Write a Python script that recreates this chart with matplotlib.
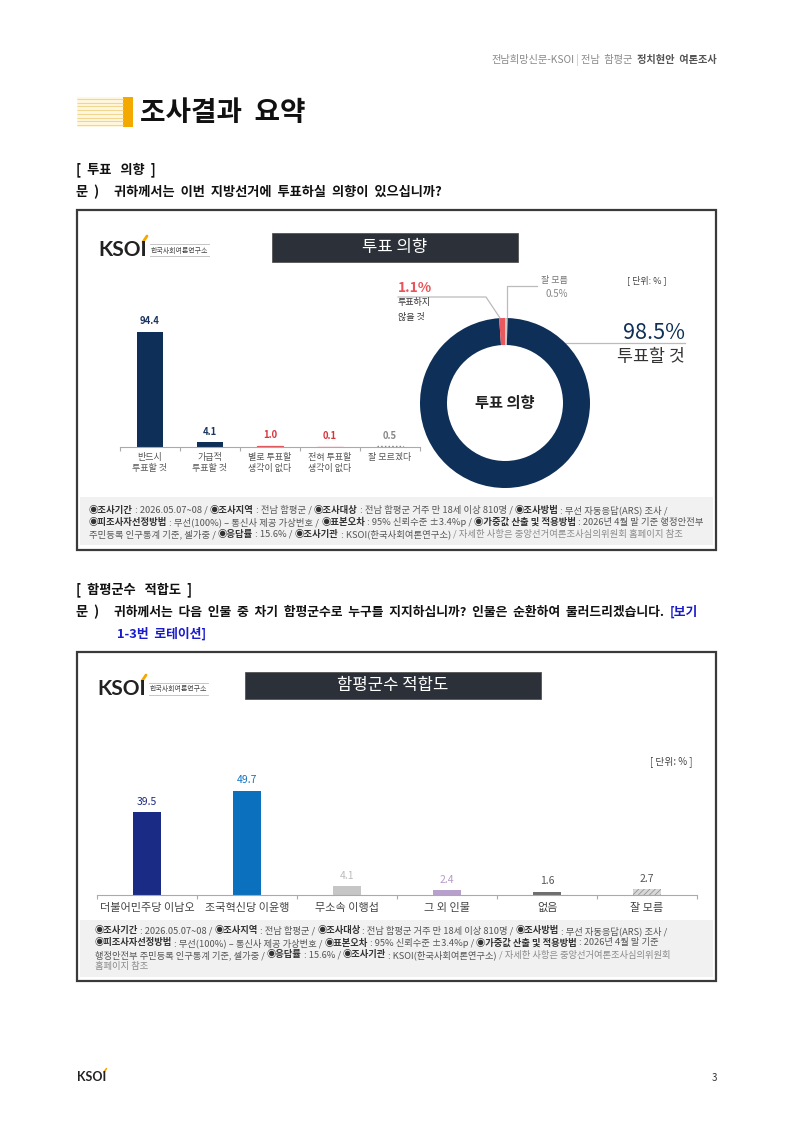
import numpy as np
import matplotlib
matplotlib.use('Agg')
import matplotlib.pyplot as plt
from matplotlib.patches import Rectangle
from matplotlib.font_manager import FontProperties

FONTS = ['Noto Sans CJK KR', 'DejaVu Sans']
plt.rcParams['font.family'] = FONTS
plt.rcParams['hatch.linewidth'] = 0.5

# data
vote_cats = ['반드시\n투표할 것', '가급적\n투표할 것', '별로 투표할\n생각이 없다', '전혀 투표할\n생각이 없다', '잘 모르겠다']
vote_vals = [94.4, 4.1, 1.0, 0.1, 0.5]
donut_names = ['잘 모름', '투표할 것', '투표하지\n않을 것']
donut_vals = [0.5, 98.5, 1.1]
fit_cats = ['더불어민주당 이남오', '조국혁신당 이윤행', '무소속 이행섭', '그 외 인물', '없음', '잘 모름']
fit_vals = [39.5, 49.7, 4.1, 2.4, 1.6, 2.7]

NAVY = '#0e2f57'
RED = '#e4555a'

W, H = 793, 1121
fig = plt.figure(figsize=(W / 100, H / 100), dpi=100)
page = fig.add_axes([0, 0, 1, 1])
page.set_xlim(0, W)
page.set_ylim(H, 0)
page.axis('off')
renderer = fig.canvas.get_renderer()


def px_box(x0, y0, x1, y1):
    return [x0 / W, 1 - y1 / H, (x1 - x0) / W, (y1 - y0) / H]


def adv(s, size, bold=False):
    fp = FontProperties(family=FONTS, size=size, weight='bold' if bold else 'normal')
    a = renderer.get_text_width_height_descent('|' + s + '|', fp, ismath=False)[0]
    b = renderer.get_text_width_height_descent('||', fp, ismath=False)[0]
    return a - b


def fit(parts, size, width):
    return size * width / sum(adv(s, size, b) for s, b, c in parts)


def rich(x, y, parts, size, ha='left', width=None):
    if width is not None:
        size = fit(parts, size, width)
    total = sum(adv(s, size, b) for s, b, c in parts)
    if ha == 'right':
        x -= total
    for s, b, c in parts:
        page.text(x, y, s, fontsize=size, fontweight='bold' if b else 'normal',
                  color=c, va='center', ha='left')
        x += adv(s, size, b)
    return size


def logo(x, y, size, small=True):
    page.text(x, y, 'KSOI', family='Lato', fontweight='bold', fontsize=size,
              color='#222', va='center', ha='left')
    k = size / 15
    page.plot([x + 45 * k, x + 49 * k], [y - 8 * k, y - 14 * k], color='#f5a800', lw=2 * k,
              solid_capstyle='round')
    if small:
        page.plot([x + 52, x + 111], [y - 6, y - 6], color='#bbb', lw=0.6)
        page.plot([x + 52, x + 111], [y + 6, y + 6], color='#bbb', lw=0.6)
        page.text(x + 53, y + 0.5, '한국사회여론연구소', fontsize=5, color='#444', va='center')


# header
rich(717, 60, [('전남희망신문-KSOI', False, '#888'), (' | ', False, '#bbb'),
               ('전남  함평군  ', False, '#888'), ('정치현안  여론조사', True, '#555')],
     7, ha='right', width=228)

# title block
page.add_patch(Rectangle((77, 97), 46, 30, facecolor='#fff7e0', edgecolor='none'))
page.hlines(np.linspace(99, 125, 8), 77, 123, color='#f1d68f', lw=0.8)
page.add_patch(Rectangle((123, 97), 10, 30, facecolor='#f4a900', edgecolor='none'))
page.text(140, 113, '조사결과  요약', fontsize=20, fontweight='bold', color='#111', va='center')

# section 1
Q = '#111'
qs = rich(114, 192, [('귀하께서는  이번  지방선거에  투표하실  의향이  있으십니까?', True, Q)], 9, width=330)
page.text(76, 170, '[  투표   의향  ]', fontsize=qs, fontweight='bold', color=Q, va='center')
page.text(76, 192, '문  )', fontsize=qs, fontweight='bold', color=Q, va='center')

# section 2
page.text(76, 590, '[  함평군수   적합도  ]', fontsize=qs, fontweight='bold', color=Q, va='center')
page.text(76, 612, '문  )', fontsize=qs, fontweight='bold', color=Q, va='center')
q2 = [('귀하께서는  다음  인물  중  차기  함평군수로  누구를  지지하십니까?  인물은  순환하여  불러드리겠습니다.  ',
       True, Q), ('[보기', True, '#1a1acd')]
q2s = rich(114, 612, q2, 9, width=588)
page.text(117, 634, '1-3번  로테이션]', fontsize=q2s, fontweight='bold', color='#1a1acd', va='center')

# chart frames
for y0, y1, fy0, fy1 in [(210, 550, 497, 545), (652, 981, 920, 977)]:
    page.add_patch(Rectangle((77, y0), 639, y1 - y0, fill=False, edgecolor='#3a3a3a', lw=1.6))
    page.add_patch(Rectangle((80, fy0), 633, fy1 - fy0, facecolor='#f1f1f1', edgecolor='none'))
page.add_patch(Rectangle((272, 233), 246, 29, facecolor='#2c3038', edgecolor='#555', lw=0.6))
page.text(395, 247.5, '투표 의향', fontsize=12, color='white', ha='center', va='center')
page.add_patch(Rectangle((245, 672), 296, 27, facecolor='#2c3038', edgecolor='#555', lw=0.6))
page.text(393, 685.5, '함평군수 적합도', fontsize=12, color='white', ha='center', va='center')

logo(98, 250, 15)
logo(97, 689, 15)

# footers
B, N, L = '#333', '#555', '#8a8a8a'
foot1 = [
    [('◉조사기간', True, B), (' : 2026.05.07~08 / ', False, N), ('◉조사지역', True, B),
     (' : 전남 함평군 / ', False, N), ('◉조사대상', True, B),
     (' : 전남 함평군 거주 만 18세 이상 810명 / ', False, N), ('◉조사방법', True, B),
     (' : 무선 자동응답(ARS) 조사 /', False, N)],
    [('◉피조사자선정방법', True, B), (' : 무선(100%) – 통신사 제공 가상번호 / ', False, N),
     ('◉표본오차', True, B), (' : 95% 신뢰수준 ±3.4%p / ', False, N),
     ('◉가중값 산출 및 적용방법', True, B), (' : 2026년 4월 말 기준 행정안전부', False, N)],
    [('주민등록 인구통계 기준, 셀가중 / ', False, N), ('◉응답률', True, B), (' : 15.6% / ', False, N),
     ('◉조사기관', True, B), (' : KSOI(한국사회여론연구소) ', False, N),
     ('/ 자세한 사항은 중앙선거여론조사심의위원회 홈페이지 참조', False, L)],
]
fs = fit(foot1[1], 6, 611)
for line, yy in zip(foot1, [510, 522, 534]):
    rich(89, yy, line, fs)

foot2 = [
    foot1[0],
    foot1[1][:-1] + [(' : 2026년 4월 말 기준', False, N)],
    [('행정안전부 주민등록 인구통계 기준, 셀가중 / ', False, N), ('◉응답률', True, B),
     (' : 15.6% / ', False, N), ('◉조사기관', True, B), (' : KSOI(한국사회여론연구소) ', False, N),
     ('/ 자세한 사항은 중앙선거여론조사심의위원회', False, L)],
    [('홈페이지 참조', False, L)],
]
fs2 = fit(foot2[0], 6, 572)
for line, yy in zip(foot2, [931, 943, 955, 967]):
    rich(95, yy, line, fs2)

# chart 1: bars
ax1 = fig.add_axes(px_box(120, 317, 420, 447))
ax1.patch.set_visible(False)
x1 = np.arange(len(vote_vals))
bars = ax1.bar(x1, vote_vals, width=0.43, color=[NAVY, NAVY, RED, RED, 'none'])
for b in bars[2:4]:
    b.set_edgecolor(RED)
    b.set_linewidth(0.9)
bars[4].set_edgecolor('#888')
bars[4].set_linestyle(':')
bars[4].set_linewidth(1)
ax1.set_xlim(-0.5, 4.5)
ax1.set_ylim(0, 130 / 1.22)
for s in ['top', 'left', 'right']:
    ax1.spines[s].set_visible(False)
ax1.spines['bottom'].set_color('#aaa')
ax1.spines['bottom'].set_linewidth(0.8)
ax1.set_yticks([])
ax1.set_xticks(np.arange(-0.5, 5, 1))
ax1.set_xticklabels([])
ax1.tick_params(axis='x', which='major', length=3, color='#aaa', width=0.8)
ax1.set_xticks(x1, minor=True)
ax1.set_xticklabels(vote_cats, minor=True, fontsize=6.5, color='#555', linespacing=1.3)
ax1.tick_params(axis='x', which='minor', length=0, pad=4)
lc1 = ['#1b3560', '#1b3560', '#d9343c', '#d9343c', '#888']
for i, v in enumerate(vote_vals):
    ax1.annotate(f'{v:.1f}', (i, v), xytext=(0, 7.5), textcoords='offset points',
                 ha='center', va='center', fontsize=6.8, fontweight='bold', color=lc1[i])

# chart 1: donut
page.plot([398, 486, 500], [297, 297, 318], color='#bbb', lw=0.9)
page.plot([507, 507, 537], [318, 286, 286], color='#bbb', lw=0.9)
page.plot([540, 685], [343, 343], color='#bbb', lw=0.9)
axd = fig.add_axes(px_box(420, 318, 590, 488))
axd.pie(donut_vals, colors=['#c9c9c9', NAVY, '#e8585c'], startangle=90, counterclock=False,
        radius=1, wedgeprops=dict(width=27 / 85, linewidth=0))
axd.set_xlim(-1, 1)
axd.set_ylim(-1, 1)
axd.text(0, 0, '투표 의향', fontsize=11, fontweight='bold', color='#222', ha='center', va='center')

page.text(685, 333, f'{donut_vals[1]}%', fontsize=15.5, color=NAVY, ha='right', va='center')
page.text(685, 357, donut_names[1], fontsize=12.5, color='#333', ha='right', va='center')
page.text(398, 288, f'{donut_vals[2]}%', fontsize=10, fontweight='bold', color='#e8545a', va='center')
for j, part in enumerate(donut_names[2].split('\n')):
    page.text(398, 303 + 14 * j, part, fontsize=6.5, color='#333', va='center')
page.text(568, 280, donut_names[0], fontsize=6.5, color='#777', ha='right', va='center')
page.text(568, 294, f'{donut_vals[0]}%', fontsize=7, color='#888', ha='right', va='center')
page.text(627, 280, '[ 단위: % ]', fontsize=6.5, color='#444', va='center')

# chart 2: bars
ax2 = fig.add_axes(px_box(97, 745, 697, 895))
ax2.patch.set_visible(False)
x2 = np.arange(len(fit_vals))
bars2 = ax2.bar(x2, fit_vals, width=0.28,
                color=['#1a2b85', '#0b70bd', '#c6c6c6', '#b8a0cc', '#6e6e6e', '#d8d8d8'])
bars2[5].set_hatch('//////')
bars2[5].set_edgecolor('#888')
bars2[5].set_linewidth(0)
ax2.set_xlim(-0.5, 5.5)
ax2.set_ylim(0, 150 / 2.1)
for s in ['top', 'left', 'right']:
    ax2.spines[s].set_visible(False)
ax2.spines['bottom'].set_color('#aaa')
ax2.spines['bottom'].set_linewidth(0.8)
ax2.set_yticks([])
ax2.set_xticks(np.arange(-0.5, 6, 1))
ax2.set_xticklabels([])
ax2.tick_params(axis='x', which='major', length=3, color='#aaa', width=0.8)
ax2.set_xticks(x2, minor=True)
ax2.set_xticklabels(fit_cats, minor=True, fontsize=8, color='#444')
ax2.tick_params(axis='x', which='minor', length=0, pad=6)
lc2 = ['#1c2a7e', '#1273c0', '#bdbdbd', '#b59cc8', '#555', '#555']
for i, v in enumerate(fit_vals):
    ax2.annotate(f'{v:.1f}', (i, v), xytext=(0, 7.5), textcoords='offset points',
                 ha='center', va='center', fontsize=7.5, color=lc2[i])
page.text(650, 762, '[ 단위: % ]', fontsize=7, color='#444', va='center')

# page footer
logo(77, 1077, 9, small=False)
page.text(712, 1078, '3', fontsize=7, color='#333', va='center')

fig.savefig('out.png', dpi=100)
